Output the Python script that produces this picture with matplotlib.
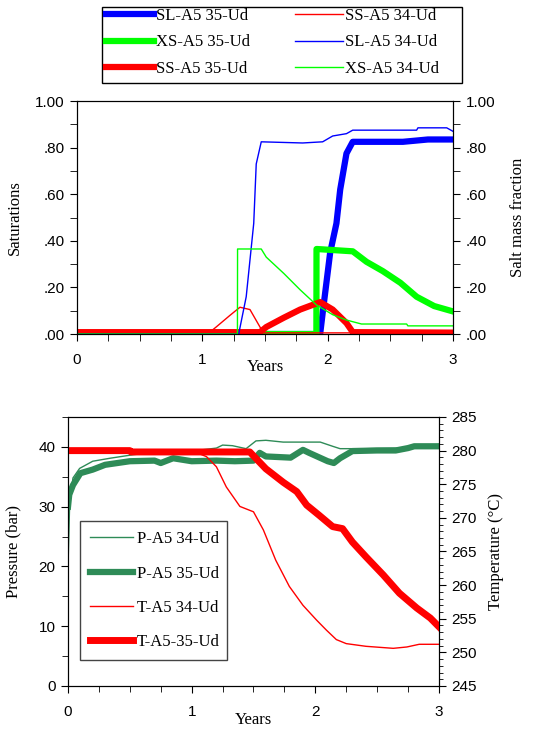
import matplotlib
matplotlib.use('Agg')
import matplotlib.pyplot as plt
from matplotlib.patches import Rectangle
from matplotlib.ticker import MultipleLocator, FuncFormatter

# ---- saturation data (years, fraction) ----
sl35_t = [0, 1.94, 1.96, 2.02, 2.07, 2.10, 2.15, 2.20, 2.6, 2.8, 3.0]
sl35_v = [0, 0, 0.09, 0.35, 0.475, 0.62, 0.775, 0.825, 0.825, 0.835, 0.835]
xs35_t = [0, 1.91, 1.911, 2.2, 2.31, 2.44, 2.58, 2.71, 2.85, 3.0]
xs35_v = [0, 0, 0.365, 0.355, 0.31, 0.27, 0.22, 0.16, 0.12, 0.097]
ss35_t = [0, 1.46, 1.51, 1.65, 1.78, 1.94, 2.04, 2.15, 2.2, 3.0]
ss35_v = [0.008, 0.008, 0.03, 0.07, 0.105, 0.137, 0.105, 0.047, 0.008, 0.006]
ss34_t = [0, 1.06, 1.11, 1.22, 1.30, 1.38, 1.46, 1.49, 3.0]
ss34_v = [0.008, 0.008, 0.03, 0.08, 0.115, 0.105, 0.03, 0.005, 0.005]
sl34_t = [0, 1.29, 1.35, 1.41, 1.43, 1.47, 1.8, 1.96, 2.04, 2.15, 2.2, 2.71, 2.72, 2.95, 3.0]
sl34_v = [0, 0, 0.16, 0.475, 0.73, 0.825, 0.82, 0.825, 0.85, 0.86, 0.875, 0.875, 0.885, 0.885, 0.87]
xs34_t = [0, 1.28, 1.281, 1.47, 1.51, 1.65, 1.78, 1.91, 2.04, 2.15, 2.27, 2.63, 2.64, 3.0]
xs34_v = [0, 0, 0.365, 0.365, 0.33, 0.26, 0.19, 0.125, 0.083, 0.06, 0.043, 0.043, 0.035, 0.035]

# ---- pressure (bar) and temperature (C) ----
p34_t = [0, 0.013, 0.04, 0.094, 0.2, 0.34, 0.53, 0.8, 1.0, 1.2, 1.25, 1.33, 1.44, 1.52, 1.6,
         1.74, 1.87, 2.04, 2.14, 2.2, 2.41, 2.68, 2.79, 3.0]
p34_v = [20, 30.3, 34.8, 36.4, 37.6, 38.1, 38.7, 39.3, 39.3, 39.8, 40.3, 40.2, 39.7, 41.0, 41.1,
         40.8, 40.8, 40.8, 40.1, 39.7, 39.7, 39.8, 40.1, 40.4]
p35_t = [0, 0.01, 0.04, 0.1, 0.2, 0.3, 0.5, 0.7, 0.75, 0.85, 1.0, 1.2, 1.35, 1.5, 1.55, 1.6,
         1.8, 1.9, 1.95, 2.1, 2.15, 2.2, 2.3, 2.5, 2.65, 2.75, 2.8, 3.0]
p35_v = [30, 32, 33.6, 35.6, 36.2, 37.0, 37.6, 37.7, 37.3, 38.1, 37.6, 37.7, 37.6, 37.7, 39.0, 38.4,
         38.2, 39.5, 39.0, 37.6, 37.3, 38.1, 39.3, 39.4, 39.4, 39.8, 40.1, 40.1]
t34_t = [0, 1.0, 1.12, 1.2, 1.28, 1.39, 1.5, 1.58, 1.68, 1.79, 1.9, 2.01, 2.09, 2.17, 2.25,
         2.41, 2.63, 2.74, 2.84, 3.0]
t34_v = [280, 280, 279.1, 277.6, 274.6, 271.7, 270.9, 268.2, 263.7, 259.8, 257.0, 254.8, 253.3,
         251.9, 251.3, 250.9, 250.6, 250.8, 251.2, 251.2]
t35_t = [0, 0.5, 0.51, 1.47, 1.6, 1.74, 1.85, 1.93, 2.03, 2.14, 2.22, 2.3, 2.41, 2.55, 2.68,
         2.82, 2.93, 3.0]
t35_v = [280, 280, 279.8, 279.8, 277.3, 275.3, 273.9, 271.9, 270.4, 268.7, 268.4, 266.4, 264.2,
         261.5, 258.8, 256.6, 255.1, 253.8]

serif = 'Liberation Serif'
sans = 'Liberation Sans'
plt.rcParams['font.family'] = sans
plt.rcParams['xtick.direction'] = 'out'
plt.rcParams['ytick.direction'] = 'out'

fig = plt.figure(figsize=(5.33, 7.29), dpi=100)

# ---------------- top panel ----------------
ax1 = fig.add_axes([0.1445, 0.5418, 0.7054, 0.3196])
thick, thin = 4.5, 1.0
h_sl35, = ax1.plot(sl35_t, sl35_v, color='#0000ff', lw=thick)
h_xs35, = ax1.plot(xs35_t, xs35_v, color='#00ff00', lw=thick)
h_ss35, = ax1.plot(ss35_t, ss35_v, color='#ff0000', lw=thick)
h_ss34, = ax1.plot(ss34_t, ss34_v, color='#ff0000', lw=thin)
h_sl34, = ax1.plot(sl34_t, sl34_v, color='#0000ff', lw=thin)
h_xs34, = ax1.plot(xs34_t, xs34_v, color='#00ff00', lw=thin)
ax1.set_xlim(0, 3)
ax1.set_ylim(0, 1)

def frac_fmt(v, pos):
    s = '%.2f' % v
    return s[1:] if s.startswith('0') else s

ax1.yaxis.set_major_locator(MultipleLocator(0.2))
ax1.yaxis.set_minor_locator(MultipleLocator(0.1))
ax1.yaxis.set_major_formatter(FuncFormatter(frac_fmt))
ax1.xaxis.set_major_locator(MultipleLocator(1))
ax1.xaxis.set_minor_locator(MultipleLocator(0.25))
ax1.tick_params(labelsize=11, length=5, pad=4)
ax1.tick_params(which='minor', length=5)
ax1.tick_params(axis='x', pad=9)
ax1.set_ylabel('Saturations', family=serif, fontsize=12, labelpad=9)
ax1.set_xlabel('Years', family=serif, fontsize=12, labelpad=-6)

ax1r = ax1.twinx()
ax1r.set_ylim(0, 1)
ax1r.yaxis.set_major_locator(MultipleLocator(0.2))
ax1r.yaxis.set_minor_locator(MultipleLocator(0.1))
ax1r.yaxis.set_major_formatter(FuncFormatter(frac_fmt))
ax1r.tick_params(labelsize=11, length=5, pad=4)
ax1r.tick_params(which='minor', length=5)
ax1r.set_ylabel('Salt mass fraction', family=serif, fontsize=12, labelpad=11)

# legend box for the top panel (frame drawn separately so it spans the full width)
fig.patches.append(Rectangle((102 / 533, 1 - 83 / 729), 360 / 533, 76 / 729,
                             transform=fig.transFigure, fill=False, edgecolor='black', lw=1.0))
leg1 = fig.legend([h_sl35, h_xs35, h_ss35, h_ss34, h_sl34, h_xs34],
                  ['SL-A5 35-Ud', 'XS-A5 35-Ud', 'SS-A5 35-Ud',
                   'SS-A5 34-Ud', 'SL-A5 34-Ud', 'XS-A5 34-Ud'],
                  ncol=2, loc='upper left', bbox_to_anchor=(106 / 533, 1 - 8 / 729),
                  frameon=False, prop={'family': serif, 'size': 12},
                  handlelength=2.9, handletextpad=0.1, labelspacing=0.62,
                  borderpad=0.0, borderaxespad=0, columnspacing=2.7)

# ---------------- bottom panel ----------------
ax2 = fig.add_axes([0.1276, 0.059, 0.696, 0.369])
ax2r = ax2.twinx()
h_p34, = ax2.plot(p34_t, p34_v, color='#2e8b57', lw=thin)
h_p35, = ax2.plot(p35_t, p35_v, color='#2e8b57', lw=4.5)
h_t34, = ax2r.plot(t34_t, t34_v, color='#ff0000', lw=thin)
h_t35, = ax2r.plot(t35_t, t35_v, color='#ff0000', lw=5)
ax2.set_xlim(0, 3)
ax2.set_ylim(0, 45)
ax2r.set_ylim(245, 285)
ax2.xaxis.set_major_locator(MultipleLocator(1))
ax2.xaxis.set_minor_locator(MultipleLocator(0.25))
ax2.yaxis.set_major_locator(MultipleLocator(10))
ax2.yaxis.set_minor_locator(MultipleLocator(5))
ax2r.yaxis.set_major_locator(MultipleLocator(5))
ax2r.yaxis.set_minor_locator(MultipleLocator(1))
for a in (ax2, ax2r):
    a.tick_params(labelsize=11, length=5, pad=4)
    a.tick_params(which='minor', length=4)
ax2r.tick_params(which='minor', length=3)
ax2.tick_params(axis='x', pad=9)
ax2.set_ylabel('Pressure (bar)', family=serif, fontsize=12, labelpad=12)
ax2.set_xlabel('Years', family=serif, fontsize=12, labelpad=-5)
ax2r.set_ylabel('Temperature (\u00b0C)', family=serif, fontsize=12, labelpad=8)

leg2 = ax2r.legend([h_p34, h_p35, h_t34, h_t35],
                   ['P-A5 34-Ud', 'P-A5 35-Ud', 'T-A5 34-Ud', 'T-A5-35-Ud'],
                   loc='upper left', bbox_to_anchor=(0.150, 0.097, 0.276, 0.188),
                   bbox_transform=fig.transFigure, mode='expand',
                   fancybox=False, edgecolor='#444444', framealpha=1,
                   prop={'family': serif, 'size': 12}, handlelength=2.6, handletextpad=0.2,
                   labelspacing=1.1, borderpad=0.6, borderaxespad=0)

fig.savefig('out.png', dpi=100)
